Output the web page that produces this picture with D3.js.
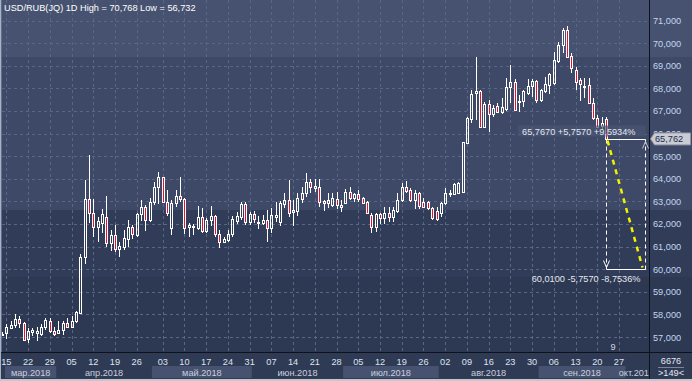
<!DOCTYPE html>
<html><head><meta charset="utf-8">
<script src="https://cdn.jsdelivr.net/npm/d3@7"></script>
<style>
html,body{margin:0;padding:0;background:#2e3954;overflow:hidden}
svg{display:block}
text{font-family:"Liberation Sans",Arial,sans-serif}
</style>
</head><body><svg id="c" width="692" height="381"></svg>
<script>
// ---------------- DATA ----------------
const dates = [
"2018-03-14","2018-03-15","2018-03-16","2018-03-19","2018-03-20","2018-03-21","2018-03-22","2018-03-23","2018-03-26","2018-03-27","2018-03-28","2018-03-29","2018-03-30",
"2018-04-02","2018-04-03","2018-04-04","2018-04-05","2018-04-06","2018-04-09","2018-04-10","2018-04-11","2018-04-12","2018-04-13","2018-04-16","2018-04-17","2018-04-18","2018-04-19","2018-04-20","2018-04-23","2018-04-24","2018-04-25","2018-04-26","2018-04-27","2018-04-28","2018-04-30",
"2018-05-01","2018-05-02","2018-05-03","2018-05-04","2018-05-07","2018-05-08","2018-05-09","2018-05-10","2018-05-11","2018-05-14","2018-05-15","2018-05-16","2018-05-17","2018-05-18","2018-05-21","2018-05-22","2018-05-23","2018-05-24","2018-05-25","2018-05-28","2018-05-29","2018-05-30","2018-05-31",
"2018-06-01","2018-06-04","2018-06-05","2018-06-06","2018-06-07","2018-06-08","2018-06-11","2018-06-12","2018-06-13","2018-06-14","2018-06-15","2018-06-18","2018-06-19","2018-06-20","2018-06-21","2018-06-22","2018-06-25","2018-06-26","2018-06-27","2018-06-28","2018-06-29",
"2018-07-02","2018-07-03","2018-07-04","2018-07-05","2018-07-06","2018-07-09","2018-07-10","2018-07-11","2018-07-12","2018-07-13","2018-07-16","2018-07-17","2018-07-18","2018-07-19","2018-07-20","2018-07-23","2018-07-24","2018-07-25","2018-07-26","2018-07-27","2018-07-30","2018-07-31",
"2018-08-01","2018-08-02","2018-08-03","2018-08-06","2018-08-07","2018-08-08","2018-08-09","2018-08-10","2018-08-13","2018-08-14","2018-08-15","2018-08-16","2018-08-17","2018-08-20","2018-08-21","2018-08-22","2018-08-23","2018-08-24","2018-08-27","2018-08-28","2018-08-29","2018-08-30","2018-08-31",
"2018-09-03","2018-09-04","2018-09-05","2018-09-06","2018-09-07","2018-09-10","2018-09-11","2018-09-12","2018-09-13","2018-09-14","2018-09-17","2018-09-18","2018-09-19","2018-09-20","2018-09-21","2018-09-24"
];
const futureDates = ["2018-09-25","2018-09-26","2018-09-27","2018-09-28","2018-10-01","2018-10-02","2018-10-03","2018-10-04","2018-10-05"];

const openV = [
57.08,57.18,57.42,57.53,57.79,57.63,56.90,57.21,57.16,57.15,57.44,57.71,57.28,57.18,57.29,57.63,57.44,57.69,58.07,60.53,
63.09,62.47,61.88,62.06,62.29,61.15,61.51,60.88,61.00,61.35,61.85,61.49,62.44,62.74,62.18,62.96,63.62,64.06,62.99,61.81,
62.91,63.24,63.09,61.85,61.93,61.81,62.29,61.69,62.18,62.35,61.56,61.19,61.31,61.54,62.15,62.32,62.88,62.10,62.44,62.03,
62.06,62.18,61.81,62.32,62.07,62.88,63.06,62.51,62.56,63.09,63.38,63.87,63.57,63.62,63.01,62.91,62.84,63.10,62.76,62.91,
63.40,63.13,63.31,63.13,62.98,62.39,61.85,62.42,62.25,62.47,62.32,62.58,63.06,63.62,63.50,63.06,63.35,62.98,62.98,62.69,
62.58,62.47,62.94,63.32,63.32,63.38,63.43,65.59,66.64,67.81,67.89,66.30,67.29,66.85,67.22,66.97,67.07,68.07,68.28,67.41,
67.45,67.81,68.10,68.32,67.48,67.89,68.15,68.22,69.22,69.92,70.58,69.43,68.81,68.37,68.04,68.13,67.33,66.67,66.33,66.63
];
const highV = [
57.21,57.59,57.72,58.03,57.91,57.68,57.40,57.41,57.44,57.57,57.85,57.85,57.46,57.69,57.69,57.84,57.91,58.16,60.68,63.94,
65.04,63.09,62.32,62.65,63.24,61.74,61.94,61.22,61.74,62.18,61.94,62.50,63.06,62.84,63.13,63.87,64.31,64.09,63.50,63.06,
63.50,64.09,63.13,62.03,62.00,62.79,62.69,62.26,62.79,62.40,61.74,61.44,61.74,62.35,62.54,62.99,62.99,62.54,62.59,62.35,
62.40,62.62,62.69,62.99,63.01,63.38,63.94,63.06,63.38,63.65,64.24,63.97,64.01,64.01,63.06,63.35,63.38,63.43,63.06,63.53,
63.62,63.35,63.50,63.20,63.01,62.47,62.50,62.50,62.76,62.76,62.76,63.35,63.80,63.90,63.57,63.50,63.43,63.13,63.03,62.76,
62.73,62.98,63.57,63.50,63.80,63.87,65.64,66.74,67.92,69.40,67.92,67.41,67.48,67.26,67.33,67.56,68.44,69.03,68.40,67.70,
67.92,68.40,68.40,68.37,67.95,68.49,68.66,69.62,70.06,70.65,70.77,69.55,68.96,68.44,68.44,68.44,67.56,66.82,66.74,66.74
];
const lowV = [
57.03,56.91,57.38,57.38,57.40,56.85,56.73,57.03,56.81,57.03,57.32,57.18,57.06,57.12,57.10,57.40,57.38,57.62,58.03,60.21,
62.06,61.41,61.19,61.59,61.00,60.81,60.74,60.56,60.85,61.00,61.35,61.44,62.15,61.71,62.10,62.84,62.87,62.91,62.35,61.49,
62.74,62.99,61.56,61.41,61.51,61.74,61.62,61.59,61.93,61.44,60.93,61.15,61.22,61.44,62.00,62.18,61.96,61.96,62.03,61.78,
61.96,61.19,61.59,62.07,61.93,62.69,62.29,61.93,62.35,62.94,63.21,63.38,63.40,62.77,62.59,62.69,62.76,62.64,62.54,62.88,
63.06,62.98,62.98,62.88,62.42,61.62,61.63,62.02,62.02,62.10,62.10,62.47,62.98,63.35,62.98,62.64,62.64,62.69,62.61,62.17,
62.14,62.32,62.84,63.20,63.28,63.35,63.38,65.57,66.48,66.60,66.27,66.27,66.08,66.71,66.89,66.86,67.01,67.33,67.01,66.97,
67.19,67.70,67.60,67.33,67.41,67.81,67.75,68.15,69.10,69.55,69.37,68.66,67.92,67.45,67.56,67.31,66.60,66.23,66.15,65.79
];
const closeV = [
57.15,57.44,57.54,57.81,57.62,56.87,57.28,57.32,57.26,57.44,57.74,57.26,57.13,57.32,57.63,57.44,57.72,58.12,60.56,63.09,
62.47,61.88,62.13,62.44,61.15,61.49,60.88,61.03,61.37,61.85,61.54,62.44,62.74,62.18,62.96,63.65,64.06,62.99,62.47,62.94,
63.24,63.09,61.81,61.96,61.88,62.29,61.71,62.18,62.35,61.54,61.19,61.34,61.56,62.22,62.35,62.88,62.10,62.44,62.21,62.10,
62.18,61.81,62.38,62.40,62.91,63.06,62.50,62.62,63.13,63.38,63.87,63.62,63.68,62.99,62.91,63.06,63.13,62.86,62.86,63.40,
63.13,63.31,63.10,62.94,62.47,61.85,62.42,62.25,62.47,62.32,62.61,63.06,63.62,63.47,63.06,63.35,62.79,62.73,62.69,62.25,
62.20,62.94,63.35,63.38,63.76,63.80,65.61,66.67,67.75,67.88,66.30,67.29,66.85,67.11,66.97,67.16,68.04,68.28,67.04,67.45,
67.89,68.10,68.32,67.48,67.92,68.18,68.63,69.25,69.92,70.58,69.40,68.88,68.29,68.19,68.10,67.33,66.67,66.30,66.45,65.767
];

const yTicks = [57,58,59,60,61,62,63,64,65,66,67,68,69,70,71];
const tickDates = ["2018-03-15","2018-03-22","2018-03-29","2018-04-05","2018-04-12","2018-04-19","2018-04-26","2018-05-03","2018-05-10","2018-05-17","2018-05-24","2018-05-31","2018-06-07","2018-06-14","2018-06-21","2018-06-28","2018-07-05","2018-07-12","2018-07-19","2018-07-26","2018-08-02","2018-08-09","2018-08-16","2018-08-23","2018-08-30","2018-09-06","2018-09-13","2018-09-20","2018-09-27"];
const monthKeys = ["2018-03","2018-04","2018-05","2018-06","2018-07","2018-08","2018-09","2018-10"];
const monthLabels = ["мар.2018","апр.2018","май.2018","июн.2018","июл.2018","авг.2018","сен.2018","окт.2018"];

const titleText = "USD/RUB(JQ) 1D High = 70,768 Low = 56,732";
const annStartValue = 65.767, annEndValue = 60.01;
const annEndDate = "2018-10-05";
const lastPrice = 65.762;
const footTop = "6676", footBottom = ">149<", markerText = "9";

// ---------------- LAYOUT ----------------
const W = 692, H = 381;
const PL = 2, PR = 649, PT = 0, PB = 352;
const svg = d3.select("#c");
const loc = d3.formatLocale({decimal:",", thousands:" ", grouping:[3], currency:["",""], minus:"-"});
const f3 = loc.format(".3f"), f4 = loc.format(".4f"), fs4 = loc.format("+.4f");

const allDates = dates.concat(futureDates);
const step = 4.345;
const x = d3.scaleBand().domain(allDates).range([2 - step/2, 2 - step/2 + step*allDates.length]).padding(0);
const cx = d => x(d) + x.bandwidth()/2;
const y = d3.scaleLinear().domain([57, 71]).range([337, 20.5]);

const defs = svg.append("defs");
const g = defs.append("linearGradient").attr("id","bg").attr("gradientUnits","userSpaceOnUse")
  .attr("x1",0).attr("y1",0).attr("x2",0).attr("y2",PB);
[[0,"#46526f"],[57/PB,"#46526f"],[57/PB,"#3d4967"],[210/PB,"#3d4967"],[210/PB,"#313c59"],[277/PB,"#313c59"],[277/PB,"#2d3853"],[1,"#2d3853"]]
  .forEach(s => g.append("stop").attr("offset", s[0]).attr("stop-color", s[1]));
defs.append("clipPath").attr("id","plotClip").append("rect").attr("x",PL).attr("y",PT).attr("width",PR-PL).attr("height",PB-PT);

// backgrounds
svg.append("rect").attr("x",0).attr("y",0).attr("width",W).attr("height",PB).attr("fill","url(#bg)");
svg.append("rect").attr("x",0).attr("y",PB).attr("width",W).attr("height",H-PB).attr("fill","#2f3a55");

// month bands
const bottomAxis = svg.append("g");
monthKeys.forEach((m, i) => {
  const inMonth = allDates.filter(d => d.slice(0,7) === m);
  let x0 = x(inMonth[0]), x1 = x(inMonth[inMonth.length-1]) + x.bandwidth();
  x0 = Math.max(x0, 5);
  const clipped = x1 > PR;
  x1 = Math.min(x1, PR);
  if (i % 2 === 0) {
    bottomAxis.append("rect").attr("x", x0).attr("y", 366).attr("width", x1 - x0).attr("height", 12).attr("fill", "#46526f");
  }
  const lx = clipped ? x0 + 1 : (x0 + x1) / 2;
  bottomAxis.append("text").attr("x", lx).attr("y", 375.5)
    .attr("text-anchor", clipped ? "start" : "middle")
    .attr("font-size", "9.2px").attr("fill", "#c8d0de").text(monthLabels[i]);
});
// cover clipped month label beyond plot
svg.append("rect").attr("x",PR).attr("y",PB).attr("width",W-PR).attr("height",H-PB).attr("fill","#2f3a55");

// date tick labels
tickDates.forEach(d => {
  svg.append("text").attr("x", cx(d)).attr("y", 364.5).attr("text-anchor","middle")
    .attr("font-size","9.2px").attr("fill","#dde4ef").text(d.slice(8,10));
});

// gridlines
const grid = svg.append("g").attr("clip-path","url(#plotClip)");
yTicks.forEach(v => {
  const yy = Math.round(y(v)) + 0.5;
  grid.append("line").attr("x1",PL).attr("x2",PR).attr("y1",yy).attr("y2",yy)
    .attr("stroke","#5a6784").attr("stroke-dasharray","3,3");
});
tickDates.forEach(d => {
  const xx = Math.round(cx(d)) + 0.5;
  grid.append("line").attr("x1",xx).attr("x2",xx).attr("y1",PT).attr("y2",PB)
    .attr("stroke","#5a6784").attr("stroke-dasharray","3,3");
});

// candles
const cg = svg.append("g").attr("clip-path","url(#plotClip)");
dates.forEach((d, i) => {
  const o = openV[i], h = highV[i], l = lowV[i], c = closeV[i];
  const xc = Math.round(cx(d));
  const top = Math.round(y(Math.max(o, c))), bot = Math.round(y(Math.min(o, c)));
  const yh = Math.round(y(h)), yl = Math.round(y(l));
  if (yh < top) cg.append("line").attr("x1",xc+0.5).attr("x2",xc+0.5).attr("y1",yh).attr("y2",top).attr("stroke","#ffffff");
  if (yl > bot) cg.append("line").attr("x1",xc+0.5).attr("x2",xc+0.5).attr("y1",bot).attr("y2",yl).attr("stroke","#ffffff");
  cg.append("rect").attr("x", xc - 0.5).attr("y", top + 0.5).attr("width", 2).attr("height", Math.max(bot - top, 0.01))
    .attr("fill", c < o ? "#e6102e" : "none").attr("stroke","#ffffff").attr("stroke-width",1);
});

// annotation
const ax0 = Math.round(cx(dates[dates.length-1])) + 0.5, ax1 = Math.round(cx(annEndDate)) + 0.5;
const ay0 = Math.round(y(annStartValue)) + 0.5, ay1 = Math.round(y(annEndValue)) + 0.5;
const ann = svg.append("g");
const diff = annStartValue - annEndValue;
const topLabel = f4(annStartValue) + " " + fs4(diff) + " " + fs4(diff / annEndValue * 100) + "%";
const botLabel = f4(annEndValue) + " " + fs4(-diff) + " " + fs4(-diff / annStartValue * 100) + "%";
ann.append("rect").attr("x",518).attr("y",ay0-14).attr("width",ax1-518).attr("height",11).attr("fill","#4a5674").attr("opacity",0.7);
ann.append("text").attr("x",ax1-10).attr("y",ay0-4.5).attr("text-anchor","end").attr("font-size","9.2px").attr("fill","#e4e8ef").text(topLabel);
ann.append("text").attr("x",ax1-5).attr("y",ay1+12).attr("text-anchor","end").attr("font-size","9.2px").attr("fill","#e4e8ef").text(botLabel);
ann.append("line").attr("x1",ax0).attr("x2",ax1).attr("y1",ay0).attr("y2",ay0).attr("stroke","#ffffff");
ann.append("line").attr("x1",ax0).attr("x2",ax1).attr("y1",ay1).attr("y2",ay1).attr("stroke","#ffffff");
ann.append("line").attr("x1",ax0).attr("x2",ax0).attr("y1",ay0).attr("y2",ay1).attr("stroke","#ffffff").attr("stroke-dasharray","4,3");
ann.append("line").attr("x1",ax1).attr("x2",ax1).attr("y1",ay0).attr("y2",ay1).attr("stroke","#ffffff").attr("stroke-dasharray","4,3");
ann.append("line").attr("x1",ax0+1).attr("x2",ax1-3).attr("y1",ay0+1).attr("y2",ay1-2)
  .attr("stroke","#f2f200").attr("stroke-width",2.5).attr("stroke-dasharray","5,5");
ann.append("path").attr("d",`M${ax1-3},${ay0+9} L${ax1},${ay0+2} L${ax1+3},${ay0+9}`).attr("fill","none").attr("stroke","#c0c4cc");
ann.append("path").attr("d",`M${ax0-3},${ay1-9} L${ax0},${ay1-2} L${ax0+3},${ay1-9}`).attr("fill","none").attr("stroke","#ffffff");
svg.append("text").attr("x",613).attr("y",350).attr("text-anchor","middle").attr("font-size","9.2px").attr("fill","#d0d4dc").text(markerText);

// separators
svg.append("line").attr("x1",PR+0.5).attr("x2",PR+0.5).attr("y1",0).attr("y2",H).attr("stroke","#0e121c");
svg.append("line").attr("x1",0).attr("x2",W).attr("y1",PB+0.5).attr("y2",PB+0.5).attr("stroke","#0e121c");

// right axis labels
const py = y(lastPrice);
defs.append("clipPath").attr("id","axClip").append("rect").attr("x",PR+1).attr("y",0).attr("width",W-PR).attr("height",py-6);
yTicks.forEach(v => {
  const t = svg.append("text").attr("x",653).attr("y",y(v)+3.5).attr("font-size","9.2px").attr("fill","#c6d6ef").text(f3(v));
  if (Math.abs(y(v) - py) < 9) t.attr("clip-path","url(#axClip)");
});
// price box
svg.append("path").attr("d",`M650.5,${py} L654.5,${py-6} L690.5,${py-6} L690.5,${py+6} L654.5,${py+6} Z`)
  .attr("fill","#c9ccd3").attr("stroke","#8d929c");
svg.append("text").attr("x",655).attr("y",py+3.5).attr("font-size","9.2px").attr("fill","#1b2b4d").text(f3(lastPrice));

// footer right
svg.append("text").attr("x",671).attr("y",364).attr("text-anchor","middle").attr("font-size","9.2px").attr("fill","#e4e8ef").text(footTop);
svg.append("line").attr("x1",658).attr("x2",684).attr("y1",367.5).attr("y2",367.5).attr("stroke","#7a859c");
svg.append("text").attr("x",671).attr("y",376).attr("text-anchor","middle").attr("font-size","9.2px").attr("fill","#e4e8ef").text(footBottom);

// title
svg.append("text").attr("x",4).attr("y",11).attr("font-size","9.2px").attr("fill","#ffffff").text(titleText);

// frame
svg.append("rect").attr("x",0).attr("y",0).attr("width",1).attr("height",H).attr("fill","#aab2c2");
svg.append("rect").attr("x",1).attr("y",0).attr("width",1).attr("height",PB).attr("fill","#5e6e90");
svg.append("rect").attr("x",0).attr("y",H-2).attr("width",W).attr("height",2).attr("fill","#c4c7cc");
</script>
</body></html>
